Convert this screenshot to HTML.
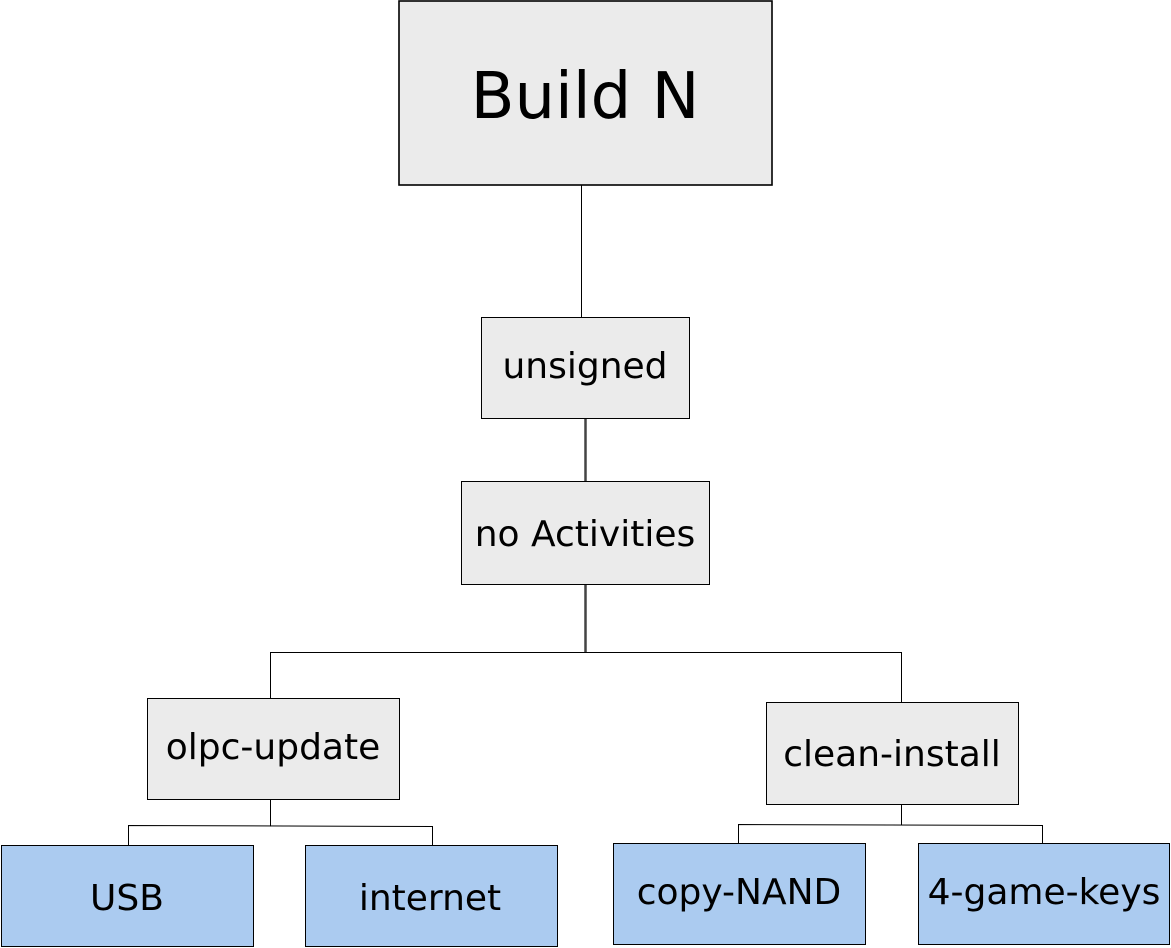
<!DOCTYPE html>
<html><head><meta charset="utf-8"><style>html,body{margin:0;padding:0;background:#fff}svg{display:block}</style></head>
<body>
<svg width="1171" height="948" xmlns="http://www.w3.org/2000/svg" font-family="DejaVu Sans, Liberation Sans, sans-serif">
<g stroke="#000" stroke-width="1" fill="none">
<line x1="581.5" y1="185" x2="581.5" y2="317"/>
<line x1="585.5" y1="419" x2="585.5" y2="481" stroke-width="2.5" stroke="#444"/>
<line x1="585.5" y1="585" x2="585.5" y2="652" stroke-width="2.5" stroke="#444"/>
<polyline points="270.5,698 270.5,652.5 901.5,652.5 901.5,702"/>
<polyline points="270.5,800 270.5,826.5"/>
<polyline points="128.5,845 128.5,825.5 432.5,826.5 432.5,845"/>
<polyline points="901.5,805 901.5,825"/>
<polyline points="738.5,843 738.5,824.5 1042.5,825.5 1042.5,843"/>
</g>
<rect x="399" y="1" width="373" height="184" stroke="#000" stroke-width="1.6" fill="#ebebeb"/>
<g stroke="#000" stroke-width="1" fill="#ebebeb">
<rect x="481.5" y="317.5" width="208" height="101"/>
<rect x="461.5" y="481.5" width="248" height="103"/>
<rect x="147.5" y="698.5" width="252" height="101"/>
<rect x="766.5" y="702.5" width="252" height="102"/>
</g>
<g stroke="#000" stroke-width="1" fill="#abcbf0">
<rect x="1.5" y="845.5" width="252" height="101"/>
<rect x="305.5" y="845.5" width="252" height="101"/>
<rect x="613.5" y="843.5" width="252" height="101"/>
<rect x="918.5" y="843.5" width="251" height="101"/>
</g>
<g fill="#000" text-anchor="middle" font-size="36">
<text x="585" y="118" font-size="64">Build N</text>
<text x="585" y="378">unsigned</text>
<text x="585" y="546">no Activities</text>
<text x="273" y="759">olpc-update</text>
<text x="892" y="766">clean-install</text>
<text x="127" y="910">USB</text>
<text x="430" y="910">internet</text>
<text x="739" y="904">copy-NAND</text>
<text x="1044" y="904">4-game-keys</text>
</g>
</svg>
</body></html>
